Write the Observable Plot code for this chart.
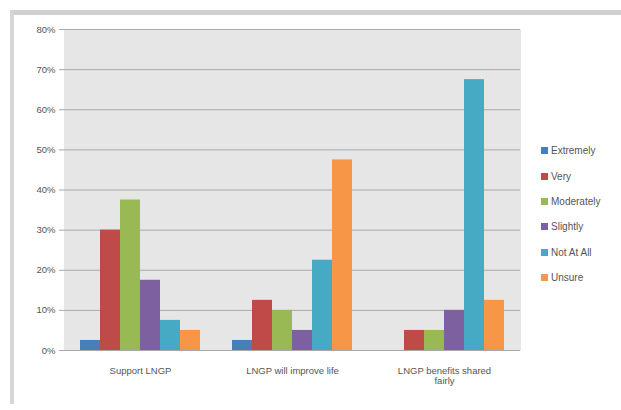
<!DOCTYPE html>
<html>
<head>
<meta charset="utf-8">
<script src="https://cdn.jsdelivr.net/npm/d3@7"></script>
<script src="https://cdn.jsdelivr.net/npm/@observablehq/plot@0.6"></script>
<style>
  html, body { margin: 0; padding: 0; background: #fff; }
  #wrap { position: relative; width: 621px; height: 410px; overflow: hidden; background: #fff; font-family: "Liberation Sans", Arial, sans-serif; }
  #topbar { position: absolute; left: 10px; top: 10px; right: 0; height: 5px; background: #cfcfcf; }
  #leftbar { position: absolute; left: 10px; top: 10px; bottom: 6px; width: 4px; background: #d6d6d6; }
  #chart { position: absolute; left: 0; top: 0; }
  #legend { position: absolute; left: 541px; top: 138px; font-size: 10px; color: #555; }
  #legend .item { display: flex; align-items: center; height: 25.4px; }
  #legend .sw { width: 7px; height: 7px; margin-right: 3px; }
</style>
</head>
<body>
<div id="wrap">
  <div id="topbar"></div>
  <div id="leftbar"></div>
  <div id="chart"></div>
  <div id="legend"></div>
</div>
<script>
const categories = ["Support LNGP", "LNGP will improve life", "LNGP benefits shared fairly"];
const categoryLabels = ["Support LNGP", "LNGP will improve life", "LNGP benefits shared\nfairly"];
const series = ["Extremely", "Very", "Moderately", "Slightly", "Not At All", "Unsure"];
const colors = ["#4A7EBB", "#BE4B48", "#98B954", "#7D60A0", "#46AAC5", "#F79646"];
const supportValues = [0.025, 0.30, 0.375, 0.175, 0.075, 0.05];
const improveValues = [0.025, 0.125, 0.10, 0.05, 0.225, 0.475];
const fairValues = [0.0, 0.05, 0.05, 0.10, 0.675, 0.125];
const yTicks = [0, 0.1, 0.2, 0.3, 0.4, 0.5, 0.6, 0.7, 0.8];

const valueSets = [supportValues, improveValues, fairValues];
const data = [];
categories.forEach((c, i) => series.forEach((s, j) => data.push({cat: c, series: s, value: valueSets[i][j]})));

const chart = Plot.plot({
  width: 621,
  height: 410,
  marginLeft: 63,
  marginRight: 101,
  marginTop: 29,
  marginBottom: 60,
  style: {background: "transparent", fontFamily: "'Liberation Sans', Arial, sans-serif", fontSize: "9.5px", color: "#555"},
  fx: {domain: categories, padding: 0, label: null, axis: null},
  x: {domain: series, paddingInner: 0, paddingOuter: 0.68, axis: null},
  y: {domain: [0, 0.8], label: null, axis: null},
  color: {domain: series, range: colors},
  marks: [
    Plot.frame({fill: "#e6e6e6", stroke: "#e6e6e6", strokeWidth: 1}),
    Plot.gridY(yTicks, {stroke: "#a8a8a8", strokeOpacity: 1}),
    Plot.axisY(yTicks, {tickFormat: d3.format(".0%"), tickSize: 5, stroke: "#a8a8a8", tickPadding: 4, label: null}),
    Plot.barY(data, {fx: "cat", x: "series", y: "value", fill: "series"}),
    Plot.axisFx({anchor: "bottom", tickSize: 0, tickPadding: 17, lineAnchor: "top", label: null, tickFormat: (d) => categoryLabels[categories.indexOf(d)]})
  ]
});
document.getElementById("chart").appendChild(chart);

const legend = document.getElementById("legend");
series.forEach((s, i) => {
  const item = document.createElement("div");
  item.className = "item";
  item.innerHTML = `<span class="sw" style="background:${colors[i]}"></span><span>${s}</span>`;
  legend.appendChild(item);
});
</script>
</body>
</html>
